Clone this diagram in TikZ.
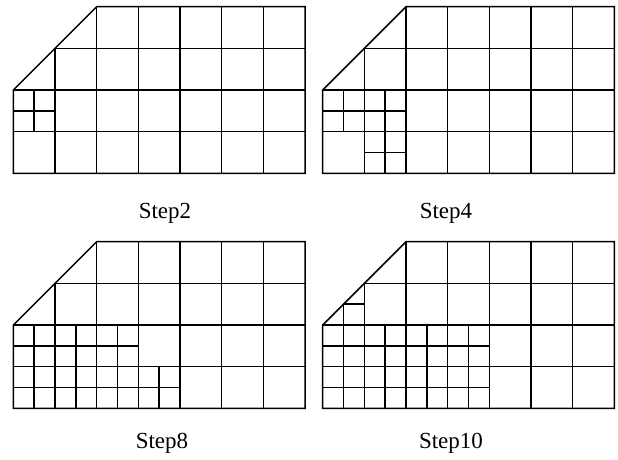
\documentclass[tikz,border=0pt]{standalone}
\usepackage{fontspec}
\setmainfont{Liberation Serif}
\tikzset{
  gridline/.style={line width=1.5pt, black, line cap=rect},
  steplabel/.style={font=\fontsize{23}{27}\selectfont, inner sep=0pt, anchor=base}
}
\newcommand{\basegrid}{%
  \draw[gridline] (0,2) -- (2,0) -- (7,0) -- (7,4) -- (0,4) -- cycle;
  \draw[gridline] (1,1) -- (7,1) (0,2) -- (7,2) (0,3) -- (7,3);
  \draw[gridline] (1,1) -- (1,4);
  \foreach \i in {2,...,6} {\draw[gridline] (\i,0) -- (\i,4);}
}
\begin{document}
\begin{tikzpicture}[x=1pt,y=-1pt]
\useasboundingbox (0,0) rectangle (618,459);
% Step2
\begin{scope}[shift={(13.33,6.67)}, x=41.67pt, y=-41.67pt]
  \basegrid
  \draw[gridline] (0.5,2) -- (0.5,3) (0,2.5) -- (1,2.5);
\end{scope}
% Step4
\begin{scope}[shift={(322.67,6.67)}, x=41.67pt, y=-41.67pt]
  \basegrid
  \draw[gridline] (0.5,2) -- (0.5,3) (1.5,2) -- (1.5,4) (0,2.5) -- (2,2.5) (1,3.5) -- (2,3.5);
\end{scope}
% Step8
\begin{scope}[shift={(13.33,241.67)}, x=41.67pt, y=-41.67pt]
  \basegrid
  \foreach \i in {0.5,1.5,2.5} {\draw[gridline] (\i,2) -- (\i,4);}
  \draw[gridline] (3.5,3) -- (3.5,4);
  \draw[gridline] (0,2.5) -- (3,2.5) (0,3.5) -- (4,3.5);
\end{scope}
% Step10
\begin{scope}[shift={(322.67,241.67)}, x=41.67pt, y=-41.67pt]
  \basegrid
  \draw[gridline] (0.5,1.5) -- (0.5,2) (0.5,1.5) -- (1,1.5);
  \foreach \i in {0.5,1.5,2.5,3.5} {\draw[gridline] (\i,2) -- (\i,4);}
  \draw[gridline] (0,2.5) -- (4,2.5) (0,3.5) -- (4,3.5);
\end{scope}
\node[steplabel] (l2) at (165,218) {Step2};
\node[steplabel] (l4) at (446,218) {Step4};
\node[steplabel] (l8) at (162,448) {Step8};
\node[steplabel] (l10) at (451,448) {Step10};
\end{tikzpicture}
\end{document}
